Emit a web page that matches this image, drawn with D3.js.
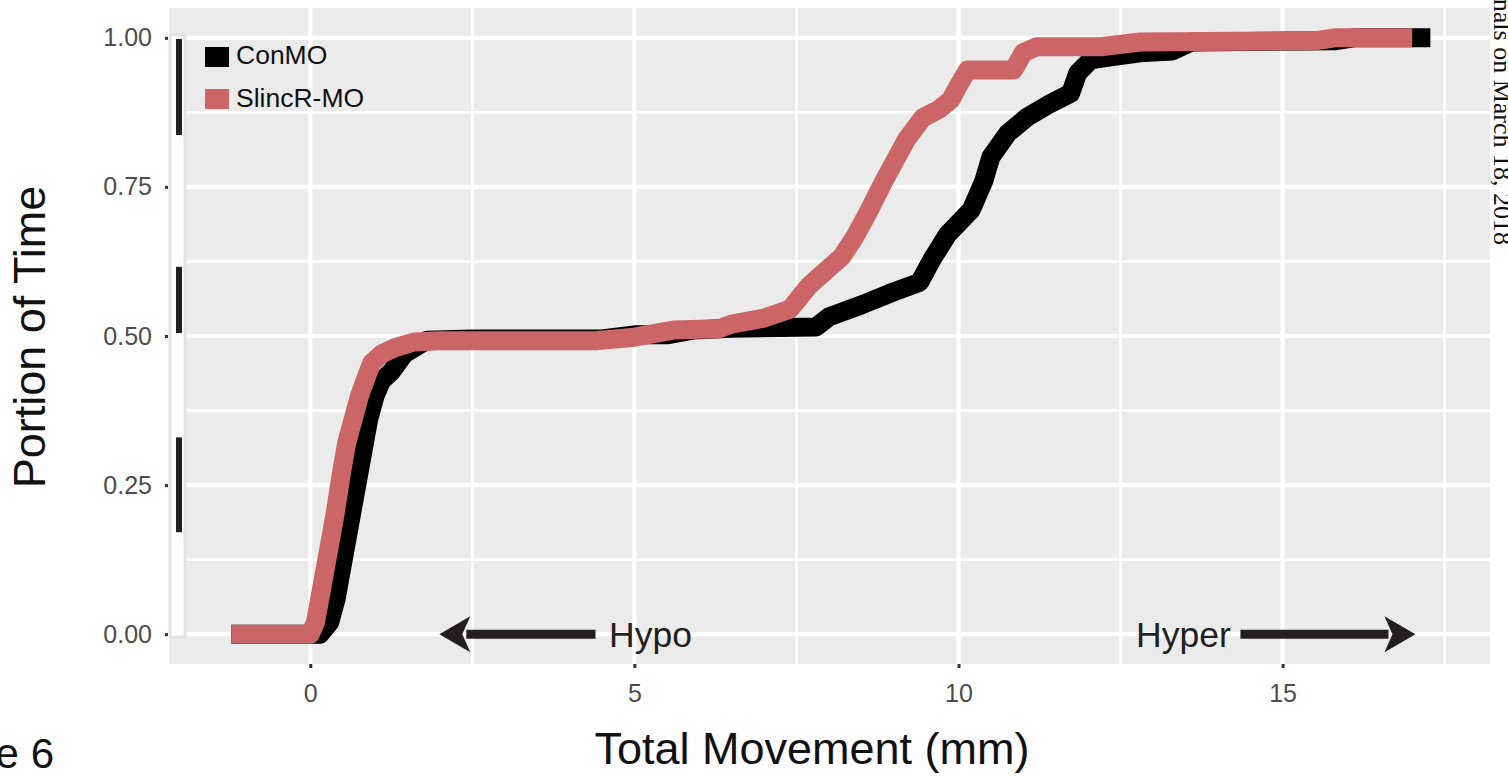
<!DOCTYPE html>
<html>
<head>
<meta charset="utf-8">
<script src="https://cdn.jsdelivr.net/npm/d3@7"></script>
<style>
  body { margin: 0; background: #fff; }
  svg { display: block; }
</style>
</head>
<body>
<div id="chart"></div>
<script>
// ---- data ----
var xTicks = [0, 5, 10, 15];
var xMinor = [2.5, 7.5, 12.5, 17.5];
var yTicks = [0, 0.25, 0.5, 0.75, 1];
var yMinor = [0.125, 0.375, 0.625, 0.875];
var groups = ["ConMO", "SlincR-MO"];
var colors = ["#000000", "#cc6666"];

// ConMO cumulative curve
var conX = [-1.22, 0.15, 0.3, 0.4, 0.5, 0.6, 0.7, 0.8, 0.9, 1.0, 1.1, 1.25, 1.45, 1.8, 2.5, 4.5, 5.0, 5.5, 5.9, 6.5, 7.8, 8.0, 8.5, 9.0, 9.4, 9.6, 9.83, 10.2, 10.39, 10.5, 10.76, 11.06, 11.42, 11.73, 11.84, 12.04, 12.35, 12.8, 13.3, 13.6, 15.8, 16.1, 17.28];
var conY = [0, 0, 0.02, 0.06, 0.12, 0.18, 0.24, 0.3, 0.36, 0.4, 0.425, 0.44, 0.47, 0.493, 0.495, 0.495, 0.502, 0.502, 0.51, 0.513, 0.515, 0.532, 0.552, 0.574, 0.59, 0.63, 0.67, 0.712, 0.76, 0.8, 0.84, 0.867, 0.89, 0.907, 0.941, 0.963, 0.968, 0.975, 0.978, 0.993, 0.995, 1.0, 1.0];

// SlincR-MO cumulative curve
var slincX = [-1.22, 0.0, 0.08, 0.18, 0.28, 0.38, 0.48, 0.56, 0.66, 0.76, 0.86, 0.95, 1.1, 1.3, 1.6, 2.0, 4.4, 5.0, 5.6, 6.3, 6.5, 7.0, 7.4, 7.7, 8.2, 8.4, 8.6, 8.85, 9.2, 9.45, 9.7, 9.88, 10.0, 10.14, 10.85, 11.0, 11.2, 12.2, 12.8, 15.5, 15.8, 17.0];
var slincY = [0, 0, 0.02, 0.08, 0.14, 0.2, 0.27, 0.32, 0.36, 0.4, 0.43, 0.455, 0.47, 0.48, 0.49, 0.492, 0.492, 0.498, 0.51, 0.512, 0.52, 0.53, 0.545, 0.585, 0.633, 0.666, 0.706, 0.76, 0.83, 0.866, 0.88, 0.896, 0.92, 0.946, 0.946, 0.975, 0.985, 0.985, 0.993, 0.995, 1.0, 1.0];

// dark scan marks to the left of the panel (y ranges)
var sideMarks = [[0.837, 0.998], [0.505, 0.616], [0.171, 0.33]];

var svgWidth = 1508;
var svgHeight = 776;

var panel = { left: 169, right: 1490, top: 8, bottom: 664 };
var sans = "'Liberation Sans', Arial, Helvetica, sans-serif";

var svg = d3.select("#chart")
    .append("svg")
    .attr("width", svgWidth)
    .attr("height", svgHeight);

var xScale = d3.scaleLinear()
    .domain([-2.18, 18.2])
    .range([panel.left, panel.right]);

var yScale = d3.scaleLinear()
    .domain([-0.05, 1.05])
    .range([panel.bottom, panel.top]);

// panel background
svg.append("rect")
    .attr("x", panel.left)
    .attr("y", panel.top)
    .attr("width", panel.right - panel.left)
    .attr("height", panel.bottom - panel.top)
    .attr("fill", "#ebebeb");

// grid lines
var grid = svg.append("g");
grid.selectAll(".xminor").data(xMinor).enter().append("line")
    .attr("x1", d => xScale(d)).attr("x2", d => xScale(d))
    .attr("y1", panel.top).attr("y2", panel.bottom)
    .attr("stroke", "#fff").attr("stroke-width", 2.8);
grid.selectAll(".yminor").data(yMinor).enter().append("line")
    .attr("y1", d => yScale(d)).attr("y2", d => yScale(d))
    .attr("x1", panel.left).attr("x2", panel.right)
    .attr("stroke", "#fff").attr("stroke-width", 2.8);
grid.selectAll(".xmajor").data(xTicks).enter().append("line")
    .attr("x1", d => xScale(d)).attr("x2", d => xScale(d))
    .attr("y1", panel.top).attr("y2", panel.bottom)
    .attr("stroke", "#fff").attr("stroke-width", 4.2);
grid.selectAll(".ymajor").data(yTicks).enter().append("line")
    .attr("y1", d => yScale(d)).attr("y2", d => yScale(d))
    .attr("x1", panel.left).attr("x2", panel.right)
    .attr("stroke", "#fff").attr("stroke-width", 4.2);

// axes
var bottomAxis = d3.axisBottom(xScale).tickValues(xTicks).tickSize(4).tickPadding(11)
    .tickFormat(d3.format("d"));
var leftAxis = d3.axisLeft(yScale).tickValues(yTicks).tickSize(4).tickPadding(12)
    .tickFormat(d3.format(".2f"));

var gx = svg.append("g")
    .attr("transform", `translate(0, ${panel.bottom})`)
    .call(bottomAxis);
var gy = svg.append("g")
    .attr("transform", `translate(${panel.left - 1}, 0)`)
    .call(leftAxis);

[gx, gy].forEach(function (g) {
    g.select(".domain").remove();
    g.selectAll(".tick line").attr("stroke", "#333").attr("stroke-width", 3);
    g.selectAll(".tick text")
        .attr("fill", "#4d4d4d")
        .style("font-family", sans)
        .style("font-size", "25px");
});
gy.selectAll(".tick line").attr("x2", -3);
gx.selectAll(".tick text").attr("dy", "0.9em");

// scan strip at the left edge
svg.append("rect")
    .attr("x", panel.left + 1)
    .attr("y", yScale(1.005))
    .attr("width", 15)
    .attr("height", yScale(-0.005) - yScale(1.005))
    .attr("fill", "#fff")
    .attr("stroke", "#e4e2e7")
    .attr("stroke-width", 3);
svg.selectAll(".sidemark").data(sideMarks).enter().append("rect")
    .attr("x", panel.left + 7)
    .attr("y", d => yScale(d[1]))
    .attr("width", 6)
    .attr("height", d => yScale(d[0]) - yScale(d[1]))
    .attr("fill", "#231f20");

// curves
var line = d3.line()
    .x(d => xScale(d[0]))
    .y(d => yScale(d[1]));

var series = [d3.zip(conX, conY), d3.zip(slincX, slincY)];

svg.selectAll(".curve").data(series).enter().append("path")
    .attr("d", line)
    .attr("fill", "none")
    .attr("stroke", (d, i) => colors[i])
    .attr("stroke-width", 19)
    .attr("stroke-linejoin", "round")
    .attr("stroke-linecap", "butt");

// legend
var legend = svg.append("g");
groups.forEach(function (g, i) {
    legend.append("rect")
        .attr("x", 205)
        .attr("y", 47 + i * 42)
        .attr("width", 24)
        .attr("height", 20)
        .attr("fill", colors[i]);
    legend.append("text")
        .attr("x", 236)
        .attr("y", 64 + i * 43)
        .attr("fill", "#111")
        .style("font-family", sans)
        .style("font-size", "26.5px")
        .text(g);
});

// Hypo / Hyper arrows
var arrows = [
    { label: "Hypo", tail: 4.4, tip: 1.99, text: 4.61, anchor: "start" },
    { label: "Hyper", tail: 14.35, tip: 17.05, text: 14.2, anchor: "end" }
];
var ay = yScale(0);
arrows.forEach(function (a) {
    var dir = a.tip > a.tail ? 1 : -1;
    var back = xScale(a.tip) - dir * 31;
    svg.append("line")
        .attr("x1", xScale(a.tail)).attr("x2", back + dir * 4)
        .attr("y1", ay).attr("y2", ay)
        .attr("stroke", "#231f20").attr("stroke-width", 9);
    svg.append("path")
        .attr("d", `M${xScale(a.tip)},${ay} L${back},${ay - 18} L${back + dir * 8},${ay} L${back},${ay + 18} Z`)
        .attr("fill", "#231f20");
    svg.append("text")
        .attr("x", xScale(a.text))
        .attr("y", ay + 13)
        .attr("text-anchor", a.anchor)
        .attr("fill", "#231f20")
        .style("font-family", sans)
        .style("font-size", "35.5px")
        .text(a.label);
});

// axis titles
svg.append("text")
    .attr("x", 812)
    .attr("y", 764)
    .attr("text-anchor", "middle")
    .attr("fill", "#111")
    .style("font-family", sans)
    .style("font-size", "45px")
    .text("Total Movement (mm)");

svg.append("text")
    .attr("transform", "translate(45, 337) rotate(-90)")
    .attr("text-anchor", "middle")
    .attr("fill", "#111")
    .style("font-family", sans)
    .style("font-size", "45px")
    .text("Portion of Time");

// page fragments around the figure
svg.append("text")
    .attr("x", 54)
    .attr("y", 768)
    .attr("text-anchor", "end")
    .attr("fill", "#111")
    .style("font-family", sans)
    .style("font-size", "42px")
    .text("Figure 6");

svg.append("text")
    .attr("transform", "translate(1494, 245) rotate(90)")
    .attr("text-anchor", "end")
    .attr("fill", "#111")
    .style("font-family", "'Liberation Serif', 'Times New Roman', serif")
    .style("font-size", "26px")
    .text("journals on March 18, 2018");
</script>
</body>
</html>
